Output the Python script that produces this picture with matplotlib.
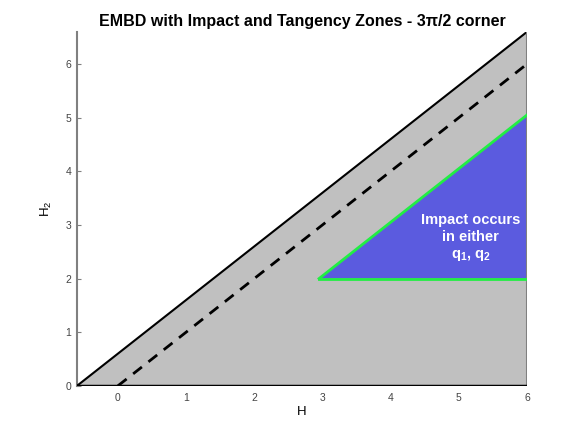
#!/usr/bin/env python3
"""EMBD with impact and tangency zones - 3pi/2 corner."""
import matplotlib
matplotlib.use("Agg")
import matplotlib.pyplot as plt

plt.rcParams["font.family"] = ["Liberation Sans", "DejaVu Sans"]
plt.rcParams["mathtext.fontset"] = "custom"
plt.rcParams["mathtext.rm"] = "Liberation Sans"
plt.rcParams["mathtext.it"] = "Liberation Sans:italic"
plt.rcParams["mathtext.bf"] = "Liberation Sans:bold"

# --- data ---
x_range = [-0.6, 6.0]
y_range = [0.0, 6.6]
# outer boundary (slope 1 through the left corner)
bound_x = [-0.6, 6.0]
bound_y = [0.0, 6.6]
# dashed line H2 = H
dash_x = [0.0, 6.0]
dash_y = [0.0, 6.0]
# impact zone triangle
impact_x = [2.95, 6.0, 6.0]
impact_y = [2.0, 5.05, 2.0]
x_ticks = [0, 1, 2, 3, 4, 5, 6]
y_ticks = [0, 1, 2, 3, 4, 5, 6]

GRAY = "#c0c0c0"
BLUE = "#5b5bdf"
GREEN = "#22ee44"

fig = plt.figure(figsize=(5.83, 4.36), dpi=100)
ax = fig.add_axes([0.132, 0.115, 0.772, 0.812])

# gray region below the boundary
ax.fill([bound_x[0], bound_x[1], bound_x[1]],
        [bound_y[0], bound_y[1], bound_y[0]],
        color=GRAY, lw=0, zorder=1)
ax.plot(bound_x, bound_y, color="black", lw=1.5, zorder=3)
ax.plot(dash_x, dash_y, color="black", lw=2, ls=(0, (4, 3)), zorder=3)

# impact zone
ax.fill(impact_x, impact_y, color=BLUE, lw=0, zorder=2)
ax.plot(impact_x[:2], impact_y[:2], color=GREEN, lw=2, zorder=4)
ax.plot([impact_x[0], impact_x[2]], [impact_y[0], impact_y[2]],
        color=GREEN, lw=2, zorder=4)
ax.text(5.17, 2.76, "Impact occurs\nin either\n$\\mathbf{q_1}$, $\\mathbf{q_2}$",
        color="white", fontsize=10.5, fontweight="bold", ha="center",
        va="center", linespacing=1.25, zorder=5)

# right edge and bottom
ax.plot([6, 6], [0, 6.6], color="#808080", lw=1.5, zorder=3)
ax.plot(x_range, [0, 0], color="black", lw=2.5, zorder=3)

ax.set_xlim(*x_range)
ax.set_ylim(*y_range)
for s in ("top", "right", "bottom"):
    ax.spines[s].set_visible(False)
ax.spines["left"].set_color("#808080")
ax.spines["left"].set_linewidth(1.5)
ax.set_xticks(x_ticks)
ax.set_yticks(y_ticks)
ax.tick_params(axis="x", length=0, labelsize=7.5, colors="#444444", pad=5)
ax.tick_params(axis="y", direction="in", length=3, labelsize=7.5,
               colors="#444444", pad=4)
ax.tick_params(axis="y", color="#808080")
ax.set_xlabel("H", fontsize=9.5, labelpad=2)
ax.set_ylabel("H$_2$", fontsize=9.5, labelpad=8)
ax.set_title("EMBD with Impact and Tangency Zones - 3\u03c0/2 corner",
             fontsize=11.5, fontweight="bold", pad=4)

fig.savefig("out.png", dpi=100)
